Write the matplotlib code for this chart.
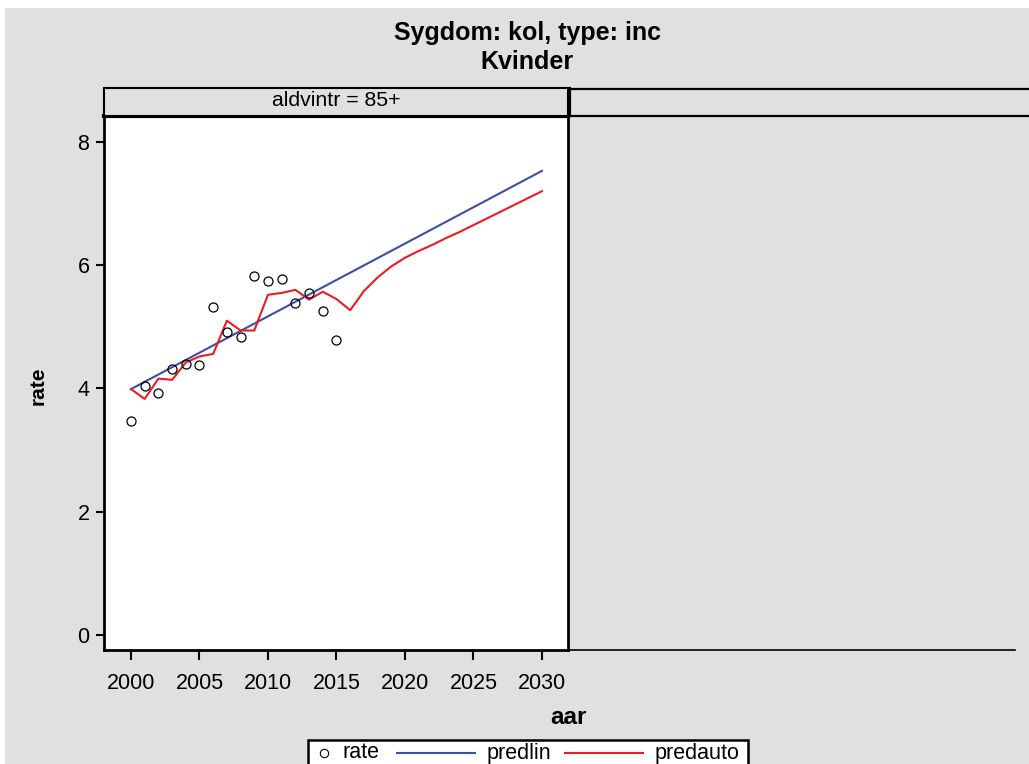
import matplotlib.pyplot as plt
from matplotlib.patches import Rectangle
from matplotlib.lines import Line2D

plt.rcParams['font.family'] = ['Liberation Sans', 'DejaVu Sans']

# observed incidence rates
years = [2000, 2001, 2002, 2003, 2004, 2005, 2006, 2007,
         2008, 2009, 2010, 2011, 2012, 2013, 2014, 2015]
rate = [3.48, 4.04, 3.92, 4.32, 4.39, 4.38, 5.32, 4.91,
        4.83, 5.82, 5.75, 5.77, 5.39, 5.55, 5.25, 4.78]

# linear trend (straight line, endpoints only)
lin_years = [2000, 2030]
predlin = [3.99, 7.53]

# autoregressive prediction
auto_years = list(range(2000, 2031))
predauto = [3.99, 3.83, 4.16, 4.14, 4.42, 4.52, 4.56, 5.10, 4.94, 4.94,
            5.52, 5.55, 5.60, 5.44, 5.57, 5.45, 5.27, 5.58, 5.80, 5.98,
            6.12, 6.23, 6.33, 6.44, 6.54, 6.65, 6.76, 6.87, 6.98, 7.09, 7.20]

x_ticks = [2000, 2005, 2010, 2015, 2020, 2025, 2030]
y_ticks = [0, 2, 4, 6, 8]
series_names = ['rate', 'predlin', 'predauto']

W, H = 1029, 764
bg = '#e0e0e0'
blue = '#3a50a6'
red = '#ec1c24'

fig = plt.figure(figsize=(W / 100, H / 100), dpi=100, facecolor='white')


def fx(px):
    return px / W


def fy(py):
    return 1 - py / H


def fig_line(xs, ys, **kw):
    fig.lines.append(Line2D([fx(v) for v in xs], [fy(v) for v in ys],
                            transform=fig.transFigure, **kw))


# gray page background
fig.patches.append(Rectangle((fx(5), 0), 1 - fx(5), fy(8), transform=fig.transFigure,
                             facecolor=bg, edgecolor='none', zorder=-10))

fig.text(fx(527), fy(33), 'Sygdom: kol, type: inc', ha='center', va='center',
         fontsize=18, fontweight='bold')
fig.text(fx(527), fy(62), 'Kvinder', ha='center', va='center',
         fontsize=18, fontweight='bold')

# main panel
ax = fig.add_axes([fx(104), fy(650), fx(568) - fx(104), fy(116) - fy(650)])
ax.set_facecolor('white')
ax.plot(lin_years, predlin, color=blue, lw=1.5, zorder=3)
ax.plot(auto_years, predauto, color=red, lw=1.5, zorder=3)
ax.plot(years, rate, linestyle='none', marker='o', markersize=6.5,
        markerfacecolor='none', markeredgecolor='black', markeredgewidth=0.9, zorder=4)

ax.set_xlim(1998.03, 2031.9)
ax.set_ylim(-0.243, 8.42)
ax.set_xticks(x_ticks)
ax.set_yticks(y_ticks)
ax.tick_params(axis='both', direction='out', width=1.5, labelsize=15.5, colors='black')
ax.tick_params(axis='x', length=7.5, pad=9)
ax.tick_params(axis='y', length=5.5, pad=5)
for s in ax.spines.values():
    s.set_linewidth(2)
ax.spines['top'].set_linewidth(3)

fig.text(fx(568), fy(718), 'aar', ha='center', va='center', fontsize=17.5, fontweight='bold')
fig.text(fx(38), fy(386), 'rate', ha='center', va='center', fontsize=15,
         fontweight='bold', rotation=90)

# facet headers
fig.patches.append(Rectangle((fx(104), fy(116)), fx(568) - fx(104), fy(88) - fy(116),
                             transform=fig.transFigure, facecolor=bg,
                             edgecolor='black', lw=1.5, zorder=2))
fig.text(fx(336), fy(101), 'aldvintr = 85+', ha='center', va='center', fontsize=15.3)
fig_line([570, 1029], [88.5, 88.5], color='black', lw=1.6, zorder=3)
fig_line([570, 570], [88, 116], color='black', lw=1.6, zorder=3)
fig_line([570, 1029], [116, 116], color='black', lw=1.6, zorder=3)
# empty right panel bottom edge
fig_line([568, 1015], [650, 650], color='black', lw=1.2)

# legend box along the bottom edge
fig.patches.append(Rectangle((fx(308), fy(775)), fx(748) - fx(308), fy(740) - fy(775),
                             transform=fig.transFigure, facecolor='white',
                             edgecolor='black', lw=1.8, zorder=5))
fig_line([324], [753], linestyle='none', marker='o', markersize=6, markerfacecolor='none',
         markeredgecolor='black', markeredgewidth=0.8, zorder=6)
fig_line([397, 475], [753, 753], color=blue, lw=1.5, zorder=6)
fig_line([565, 643], [753, 753], color=red, lw=1.5, zorder=6)
for name, px in zip(series_names, [342, 487, 655]):
    fig.text(fx(px), fy(753), name, ha='left', va='center', fontsize=15.5, zorder=6)

fig.savefig('out.png', dpi=100, facecolor=fig.get_facecolor())
